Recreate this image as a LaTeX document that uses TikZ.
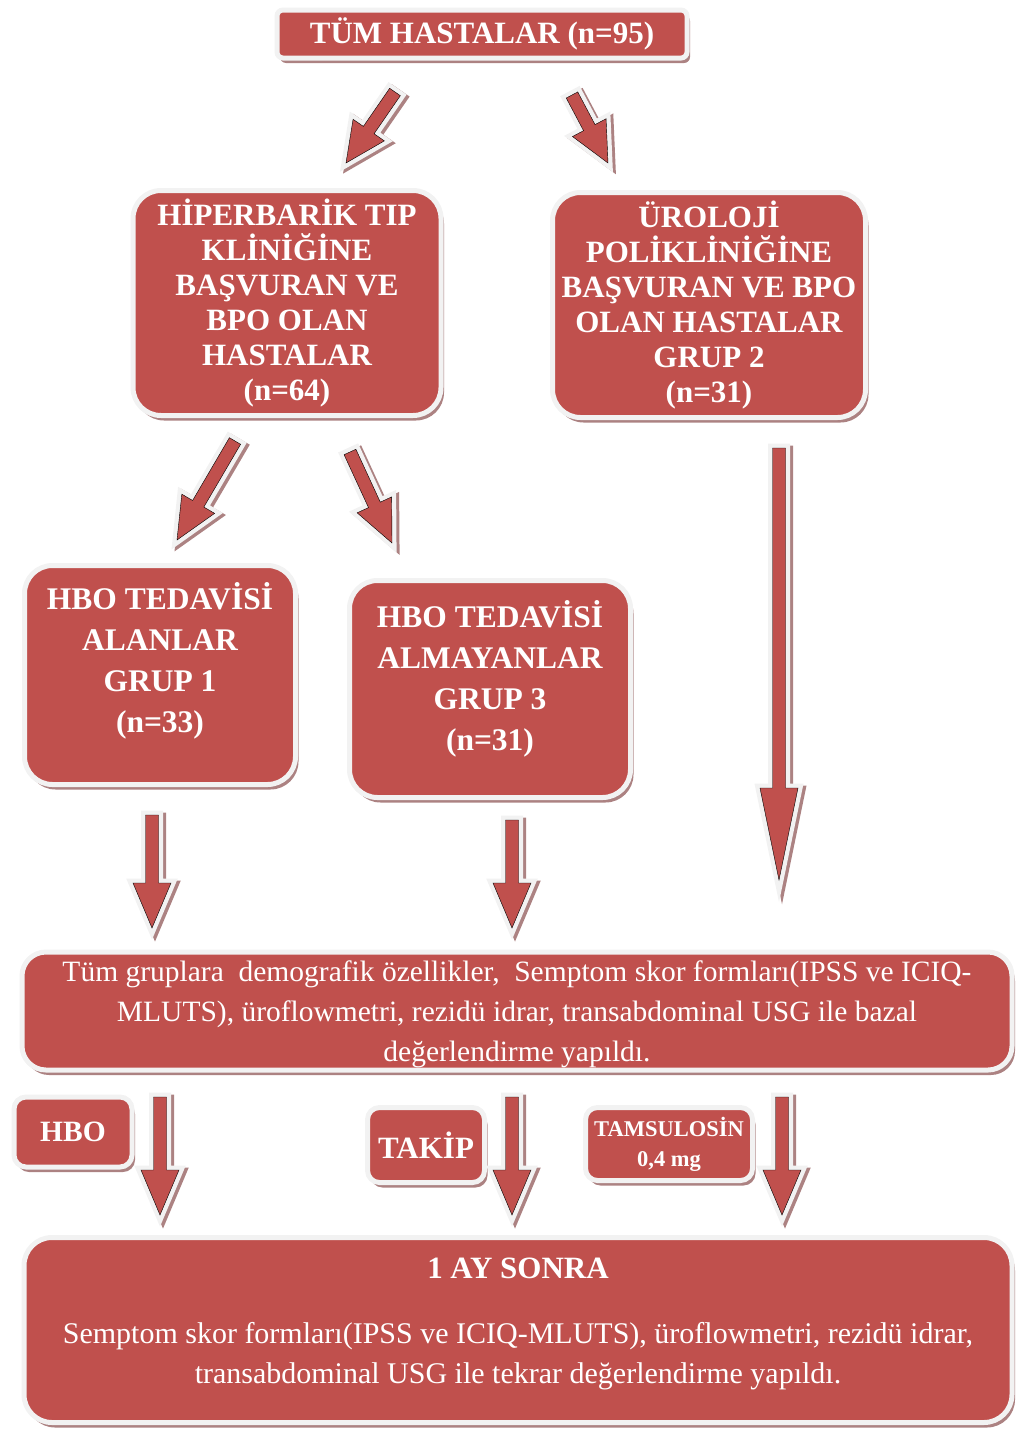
\documentclass[tikz,border=0pt]{standalone}
\usepackage{fontspec}
\setmainfont{Liberation Serif}
\usetikzlibrary{calc,shadows}

\definecolor{boxred}{RGB}{192,80,77}
\definecolor{rimgray}{RGB}{242,242,242}
\definecolor{shadowrose}{RGB}{172,130,130}

\tikzset{
  redbox/.style={rectangle, rounded corners=#1, fill=boxred, draw=rimgray, line width=5pt,
    text=white, align=center, inner sep=2pt,
    drop shadow={shadow xshift=3pt, shadow yshift=-5pt, fill=shadowrose, opacity=1}},
  redbox/.default=28pt,
  fatarrow/.style={to path={($(\tikztotarget)!#1!(\tikztostart)$) coordinate (ah)
      ($(\tikztostart)!6.5pt!90:(\tikztotarget)$) -- ($(ah)!6.5pt!90:(\tikztotarget)$)
      -- ($(ah)!19pt!90:(\tikztotarget)$) -- (\tikztotarget)
      -- ($(ah)!19pt!-90:(\tikztotarget)$) -- ($(ah)!6.5pt!-90:(\tikztotarget)$)
      -- ($(\tikztostart)!6.5pt!-90:(\tikztotarget)$) -- cycle},
    fill=boxred, line join=miter,
    preaction={fill=shadowrose, draw=shadowrose, line width=9pt, transform canvas={shift={(3,2)}}},
    preaction={fill=rimgray, draw=rimgray, line width=9pt}},
  fatarrow/.default=45pt,
}

\begin{document}
\begin{tikzpicture}[x=1pt,y=-1pt]
  \useasboundingbox (0,0) rectangle (1019,1432);

  % boxes
  \node[redbox=6pt, minimum width=410pt, minimum height=48pt,
    font=\bfseries\fontsize{31}{35}\selectfont] (all) at (482,34) {TÜM HASTALAR (n=95)};
  \node[redbox, minimum width=308pt, minimum height=225pt,
    font=\bfseries\fontsize{31}{35}\selectfont] (hbt) at (287,303)
    {HİPERBARİK TIP\\ KLİNİĞİNE\\ BAŞVURAN VE\\ BPO OLAN\\ HASTALAR\\ (n=64)};
  \node[redbox, minimum width=313pt, minimum height=225pt,
    font=\bfseries\fontsize{31}{35}\selectfont] (uro) at (709,305)
    {ÜROLOJİ\\ POLİKLİNİĞİNE\\ BAŞVURAN VE BPO\\ OLAN HASTALAR\\ GRUP 2\\ (n=31)};
  \node[redbox, minimum width=271pt, minimum height=219pt, text depth=36pt,
    font=\bfseries\fontsize{31.5}{41}\selectfont] (grp1) at (160,675)
    {HBO TEDAVİSİ\\ ALANLAR\\ GRUP 1\\ (n=33)};
  \node[redbox, minimum width=281pt, minimum height=217pt, text depth=28pt,
    font=\bfseries\fontsize{31.5}{41}\selectfont] (grp3) at (490,689)
    {HBO TEDAVİSİ\\ ALMAYANLAR\\ GRUP 3\\ (n=31)};
  \node[redbox=24pt, minimum width=990pt, minimum height=118pt, text depth=-11pt,
    font=\fontsize{29.5}{40}\selectfont] (bazal) at (517,1011)
    {Tüm gruplara\ \ demografik özellikler,\ \ Semptom skor formları(IPSS ve ICIQ-\\
     MLUTS), üroflowmetri, rezidü idrar, transabdominal USG ile bazal\\
     değerlendirme yapıldı.};
  \node[redbox=12pt, minimum width=118pt, minimum height=70pt,
    font=\bfseries\fontsize{29.5}{32}\selectfont] (hbo) at (73,1132) {HBO};
  \node[redbox=12pt, minimum width=117pt, minimum height=75pt,
    font=\bfseries\fontsize{31}{32}\selectfont] (takip) at (426,1145) {TAKİP};
  \node[redbox=12pt, minimum width=167pt, minimum height=73pt,
    font=\bfseries\fontsize{22.5}{30}\selectfont] (tams) at (669,1144) {TAMSULOSİN\\ 0,4 mg};
  \node[redbox, minimum width=988pt, minimum height=185pt, text depth=18pt,
    font=\fontsize{30}{40}\selectfont] (sonra) at (518,1330)
    {{\bfseries\fontsize{31}{35}\selectfont 1 AY SONRA}\\[25pt]
     Semptom skor formları(IPSS ve ICIQ-MLUTS), üroflowmetri, rezidü idrar,\\
     transabdominal USG ile tekrar değerlendirme yapıldı.};

  % arrow ends
  \coordinate (a1) at (395,92);   \coordinate (b1) at (346,163);
  \coordinate (a2) at (572,95);   \coordinate (b2) at (608,163);
  \coordinate (a3) at (235,441);  \coordinate (b3) at (177,540);
  \coordinate (a4) at (350,452);  \coordinate (b4) at (392,543);
  \coordinate (a5) at (779,448);  \coordinate (b5) at (779,880);
  \coordinate (a6) at (152,815);  \coordinate (b6) at (152,928);
  \coordinate (a7) at (512,820);  \coordinate (b7) at (512,928);
  \coordinate (a8) at (160,1097); \coordinate (b8) at (160,1215);
  \coordinate (a9) at (512,1097); \coordinate (b9) at (512,1215);
  \coordinate (a10) at (782,1097); \coordinate (b10) at (782,1215);

  \draw[fatarrow=40pt] (a1) to (b1);
  \draw[fatarrow=40pt] (a2) to (b2);
  \draw[fatarrow=42pt] (a3) to (b3);
  \draw[fatarrow=42pt] (a4) to (b4);
  \draw[fatarrow=92pt] (a5) to (b5);
  \foreach \i in {6,...,10}
    \draw[fatarrow] (a\i) to (b\i);
\end{tikzpicture}
\end{document}
